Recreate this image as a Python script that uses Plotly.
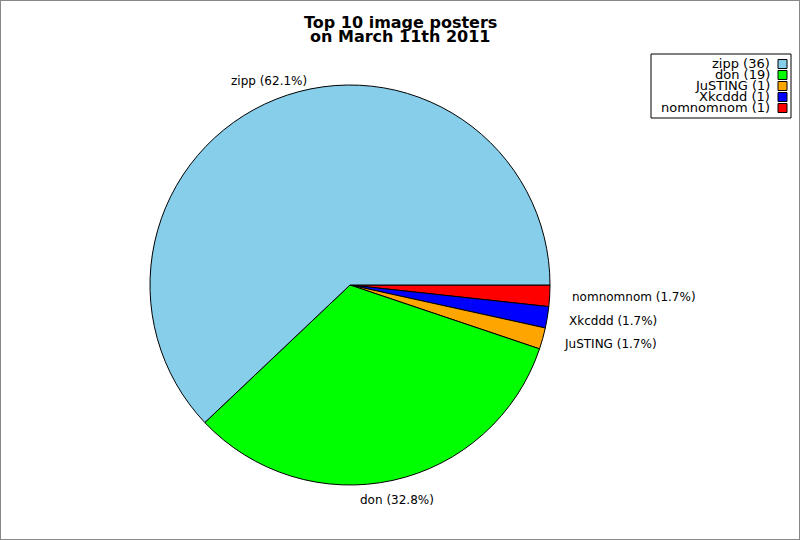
import math
import plotly.graph_objects as go

names = ["zipp", "don", "JuSTING", "Xkcddd", "nomnomnom"]
counts = [36, 19, 1, 1, 1]
colors = ["#87CEEB", "#00FF00", "#FFA500", "#0000FF", "#FF0000"]

W, H = 800, 540
cx, cy, r = 350, 285, 200

fig = go.Figure()
# reference goes counterclockwise from 3 o'clock; same thing as clockwise with reversed order
fig.add_trace(go.Pie(
    labels=names[::-1], values=counts[::-1], sort=False,
    direction="clockwise", rotation=90,
    marker=dict(colors=colors[::-1], line=dict(color="black", width=1)),
    textinfo="none",
    hoverinfo="label+value+percent",
    domain=dict(x=[(cx - r) / W, (cx + r) / W], y=[(H - cy - r) / H, (H - cy + r) / H]),
    showlegend=False,
))

# slice labels at 1.1 x radius, matplotlib style
total = sum(counts)
start = 0.0
for n, c in zip(names, counts):
    frac = c / total
    mid = (start + frac / 2) * 2 * math.pi
    start += frac
    ux, uy = math.cos(mid), math.sin(mid)
    px = cx + 1.1 * r * ux
    py = cy - 1.1 * r * uy
    anchor = "center" if abs(ux) < 0.5 else ("left" if ux > 0 else "right")
    fig.add_annotation(text=f"{n} ({frac * 100:.1f}%)", x=px / W, y=1 - py / H,
                       xref="paper", yref="paper", xanchor=anchor, yanchor="middle",
                       showarrow=False, font=dict(family="DejaVu Sans", size=12, color="black"))

# title
fig.add_annotation(text="<b>Top 10 image posters</b>", x=0.5, y=1 - 11 / H, xref="paper", yref="paper",
                   showarrow=False, font=dict(family="DejaVu Sans", size=16, color="black"))
fig.add_annotation(text="<b>on March 11th 2011</b>", x=0.5, y=1 - 25 / H, xref="paper", yref="paper",
                   showarrow=False, font=dict(family="DejaVu Sans", size=16, color="black"))

# legend box, text right aligned with swatch on the right
lx0, lx1, ly0, ly1 = 651, 791, 54, 118
fig.add_shape(type="rect", xref="paper", yref="paper", x0=lx0 / W, x1=lx1 / W,
              y0=1 - ly1 / H, y1=1 - ly0 / H, line=dict(color="black", width=1), fillcolor="white")
for i, (n, c, col) in enumerate(zip(names, counts, colors)):
    yy = 64 + i * 11
    fig.add_annotation(text=f"{n} ({c})", x=772 / W, y=1 - yy / H, xref="paper", yref="paper",
                       xanchor="right", yanchor="middle", showarrow=False,
                       font=dict(family="DejaVu Sans", size=13, color="black"))
    fig.add_shape(type="rect", xref="paper", yref="paper", x0=778 / W, x1=787 / W,
                  y0=1 - (yy + 4.5) / H, y1=1 - (yy - 4.5) / H,
                  line=dict(color="black", width=1), fillcolor=col)

# outer frame
fig.add_shape(type="rect", xref="paper", yref="paper", x0=0, x1=1, y0=0, y1=1,
              line=dict(color="#888888", width=2))

fig.update_layout(width=W, height=H, margin=dict(l=0, r=0, t=0, b=0),
                  paper_bgcolor="white", plot_bgcolor="white")

fig.write_html("out.html", config={"displayModeBar": False},
               post_script="document.body.style.margin='0';")
